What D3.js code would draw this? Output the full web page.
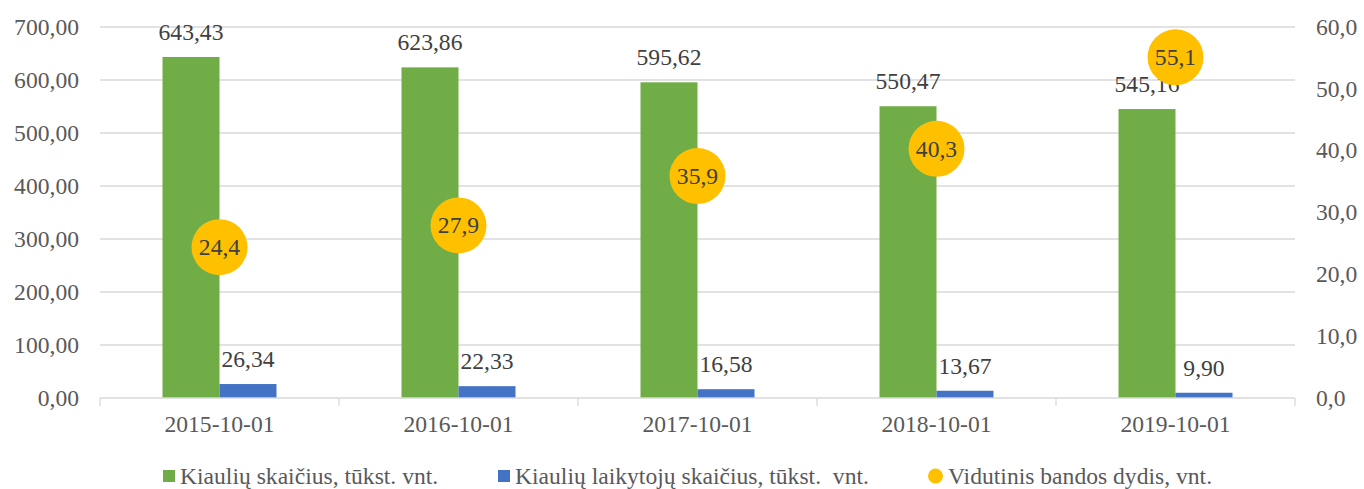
<!DOCTYPE html>
<html>
<head>
<meta charset="utf-8">
<script src="https://cdn.jsdelivr.net/npm/d3@7"></script>
<style>
  body { margin: 0; background: #fff; }
  svg text { font-family: "Liberation Serif", "Times New Roman", serif; }
</style>
</head>
<body>
<script>
const dates = ["2015-10-01", "2016-10-01", "2017-10-01", "2018-10-01", "2019-10-01"];
const pigs = [643.43, 623.86, 595.62, 550.47, 545.16];
const keepers = [26.34, 22.33, 16.58, 13.67, 9.90];
const herdSize = [24.4, 27.9, 35.9, 40.3, 55.1];
const seriesNames = [
  "Kiaulių skaičius, tūkst. vnt.",
  "Kiaulių laikytojų skaičius, tūkst.  vnt.",
  "Vidutinis bandos dydis, vnt."
];
const colors = ["#70ad47", "#4472c4", "#ffc000"];

const width = 1364, height = 489;
const margin = {top: 27, right: 69, bottom: 91, left: 100};
const fs = "23.6px";

const svg = d3.select("body").append("svg")
  .attr("width", width)
  .attr("height", height);

const x = d3.scaleBand()
  .domain(dates)
  .range([margin.left, width - margin.right]);

const bw = x.bandwidth();
const barW = bw * 0.2385;
const sub = d3.scaleBand()
  .domain([0, 1])
  .range([bw / 2 - barW, bw / 2 + barW]);

const yL = d3.scaleLinear().domain([0, 700]).range([height - margin.bottom, margin.top]);
const yR = d3.scaleLinear().domain([0, 60]).range([height - margin.bottom, margin.top]);

const fmt2 = v => d3.format(".2f")(v).replace(".", ",");
const fmt1 = v => d3.format(".1f")(v).replace(".", ",");

// gridlines
svg.append("g")
  .selectAll("line")
  .data(yL.ticks(7).slice(1))
  .join("line")
  .attr("x1", margin.left)
  .attr("x2", width - margin.right)
  .attr("y1", d => yL(d))
  .attr("y2", d => yL(d))
  .attr("stroke", "#d9d9d9")
  .attr("stroke-width", 1.3);

// left axis labels
svg.append("g")
  .selectAll("text")
  .data(yL.ticks(7))
  .join("text")
  .attr("x", 79)
  .attr("y", d => yL(d))
  .attr("dy", "0.33em")
  .attr("text-anchor", "end")
  .attr("fill", "#595959")
  .style("font-size", fs)
  .text(fmt2);

// right axis labels
svg.append("g")
  .selectAll("text")
  .data(yR.ticks(6))
  .join("text")
  .attr("x", 1316)
  .attr("y", d => yR(d))
  .attr("dy", "0.33em")
  .attr("text-anchor", "start")
  .attr("fill", "#595959")
  .style("font-size", fs)
  .text(fmt1);

// bars
const groups = svg.append("g")
  .selectAll("g")
  .data(dates)
  .join("g")
  .attr("transform", d => `translate(${x(d)},0)`);

[pigs, keepers].forEach((vals, s) => {
  groups.append("rect")
    .attr("x", sub(s))
    .attr("width", sub.bandwidth())
    .attr("y", (d, i) => yL(vals[i]))
    .attr("height", (d, i) => yL(0) - yL(vals[i]))
    .attr("fill", colors[s]);
  groups.append("text")
    .attr("x", sub(s) + sub.bandwidth() / 2)
    .attr("y", (d, i) => yL(vals[i]) - 17)
    .attr("text-anchor", "middle")
    .attr("fill", "#404040")
    .style("font-size", fs)
    .text((d, i) => fmt2(vals[i]));
});

// x axis
const baseY = yL(0);
svg.append("line")
  .attr("x1", margin.left)
  .attr("x2", width - margin.right)
  .attr("y1", baseY)
  .attr("y2", baseY)
  .attr("stroke", "#d9d9d9")
  .attr("stroke-width", 1.3);

svg.append("g")
  .selectAll("line")
  .data(dates.concat(["end"]))
  .join("line")
  .attr("x1", d => d === "end" ? width - margin.right : x(d))
  .attr("x2", d => d === "end" ? width - margin.right : x(d))
  .attr("y1", baseY)
  .attr("y2", baseY + 8)
  .attr("stroke", "#d9d9d9")
  .attr("stroke-width", 1.3);

svg.append("g")
  .selectAll("text")
  .data(dates)
  .join("text")
  .attr("x", d => x(d) + bw / 2)
  .attr("y", baseY + 34)
  .attr("text-anchor", "middle")
  .attr("fill", "#595959")
  .style("font-size", fs)
  .text(d => d);

// bubbles
const bub = svg.append("g")
  .selectAll("g")
  .data(dates)
  .join("g")
  .attr("transform", (d, i) => `translate(${x(d) + bw / 2},${yR(herdSize[i])})`);

bub.append("circle")
  .attr("r", 28)
  .attr("fill", colors[2]);

bub.append("text")
  .attr("dy", "0.33em")
  .attr("text-anchor", "middle")
  .attr("fill", "#404040")
  .style("font-size", fs)
  .text((d, i) => fmt1(herdSize[i]));

// legend
const legendX = [163, 498, 928];
const leg = svg.append("g")
  .selectAll("g")
  .data(seriesNames)
  .join("g")
  .attr("transform", (d, i) => `translate(${legendX[i]},476)`);

leg.each(function (d, i) {
  const g = d3.select(this);
  if (i < 2) {
    g.append("rect").attr("x", 0).attr("y", -6).attr("width", 12).attr("height", 12).attr("fill", colors[i]);
  } else {
    g.append("circle").attr("cx", 7.5).attr("cy", 0).attr("r", 7.5).attr("fill", colors[i]);
  }
  g.append("text")
    .attr("x", i < 2 ? 17 : 20)
    .attr("dy", "0.33em")
    .attr("fill", "#595959")
    .style("font-size", fs)
    .style("white-space", "pre")
    .text(d);
});
</script>
</body>
</html>
